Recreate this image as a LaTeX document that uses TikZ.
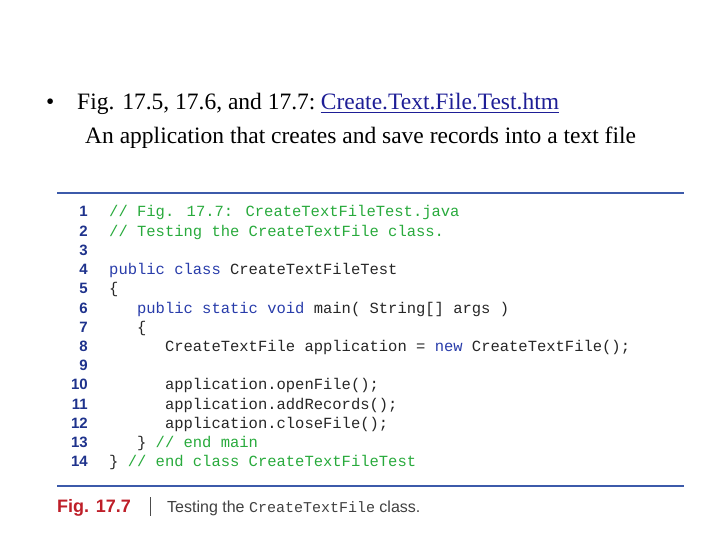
\documentclass[tikz,border=0pt]{standalone}
\usepackage{fontspec}
\setmainfont{Liberation Serif}
\setsansfont{Liberation Sans}
\newfontfamily\codefont{Liberation Mono}
\definecolor{rule}{RGB}{60,90,170}
\definecolor{kw}{RGB}{40,60,170}
\definecolor{cm}{RGB}{40,170,60}
\definecolor{ln}{RGB}{30,50,140}
\definecolor{figred}{RGB}{190,30,40}
\definecolor{linkc}{RGB}{30,30,150}
\begin{document}
\begin{tikzpicture}[x=1pt,y=-1pt,
  code/.style={anchor=base west,inner sep=0,font=\codefont\fontsize{15.5}{18}\selectfont,text=black!85},
  lnum/.style={anchor=base east,inner sep=0,font=\sffamily\bfseries\fontsize{15}{16}\selectfont,text=ln},
  ttl/.style={anchor=base west,inner sep=0,font=\fontsize{23.5}{26}\selectfont}]
\useasboundingbox (0,0) rectangle (720,540);
\node[ttl] (b) at (46,110) {•};
\node[ttl] (t1) at (77,110) {Fig. 17.5, 17.6, and 17.7:\ };
\node[ttl,text=linkc] (lk) at ([xshift=5pt]t1.base east) {Create.Text.File.Test.htm};
\draw[linkc,line width=0.8] ([yshift=-2.5pt]lk.base west) -- ([yshift=-2.5pt]lk.base east);
\node[ttl] (t2) at (85,144) {An application that creates and save records into a text file};
\draw[rule,line width=1.2] (57,193) -- (684,193);
\draw[rule,line width=1.2] (57,486) -- (684,486);
\foreach \i in {1,...,14} \node[lnum] (n\i) at (88,{217+(\i-1)*19.2}) {\i};
\node[code] (c1) at (109,217) {\textcolor{cm}{// Fig. 17.7: CreateTextFileTest.java}};
\node[code] (c2) at (109,236.2) {\textcolor{cm}{// Testing the CreateTextFile class.}};
\node[code] (c4) at (109,274.6) {\textcolor{kw}{public class} CreateTextFileTest};
\node[code] (c5) at (109,293.8) {\{};
\node[code] (c6) at (109,313) {\ \ \ \textcolor{kw}{public static void} main( String[] args )};
\node[code] (c7) at (109,332.2) {\ \ \ \{};
\node[code] (c8) at (109,351.4) {\ \ \ \ \ \ CreateTextFile application = \textcolor{kw}{new} CreateTextFile();};
\node[code] (c10) at (109,389.8) {\ \ \ \ \ \ application.openFile();};
\node[code] (c11) at (109,409) {\ \ \ \ \ \ application.addRecords();};
\node[code] (c12) at (109,428.2) {\ \ \ \ \ \ application.closeFile();};
\node[code] (c13) at (109,447.4) {\ \ \ \} \textcolor{cm}{// end main}};
\node[code] (c14) at (109,466.6) {\} \textcolor{cm}{// end class CreateTextFileTest}};
\node[anchor=base west,inner sep=0,font=\sffamily\bfseries\fontsize{18}{20}\selectfont,text=figred] (f) at (57,512) {Fig. 17.7};
\draw[black!70,line width=1] (150,497) -- (150,516);
\node[anchor=base west,inner sep=0,font=\sffamily\fontsize{16}{18}\selectfont,text=black!75] (cap) at (167,512) {Testing the {\codefont\fontsize{15}{18}\selectfont CreateTextFile} class.};
\end{tikzpicture}
\end{document}
